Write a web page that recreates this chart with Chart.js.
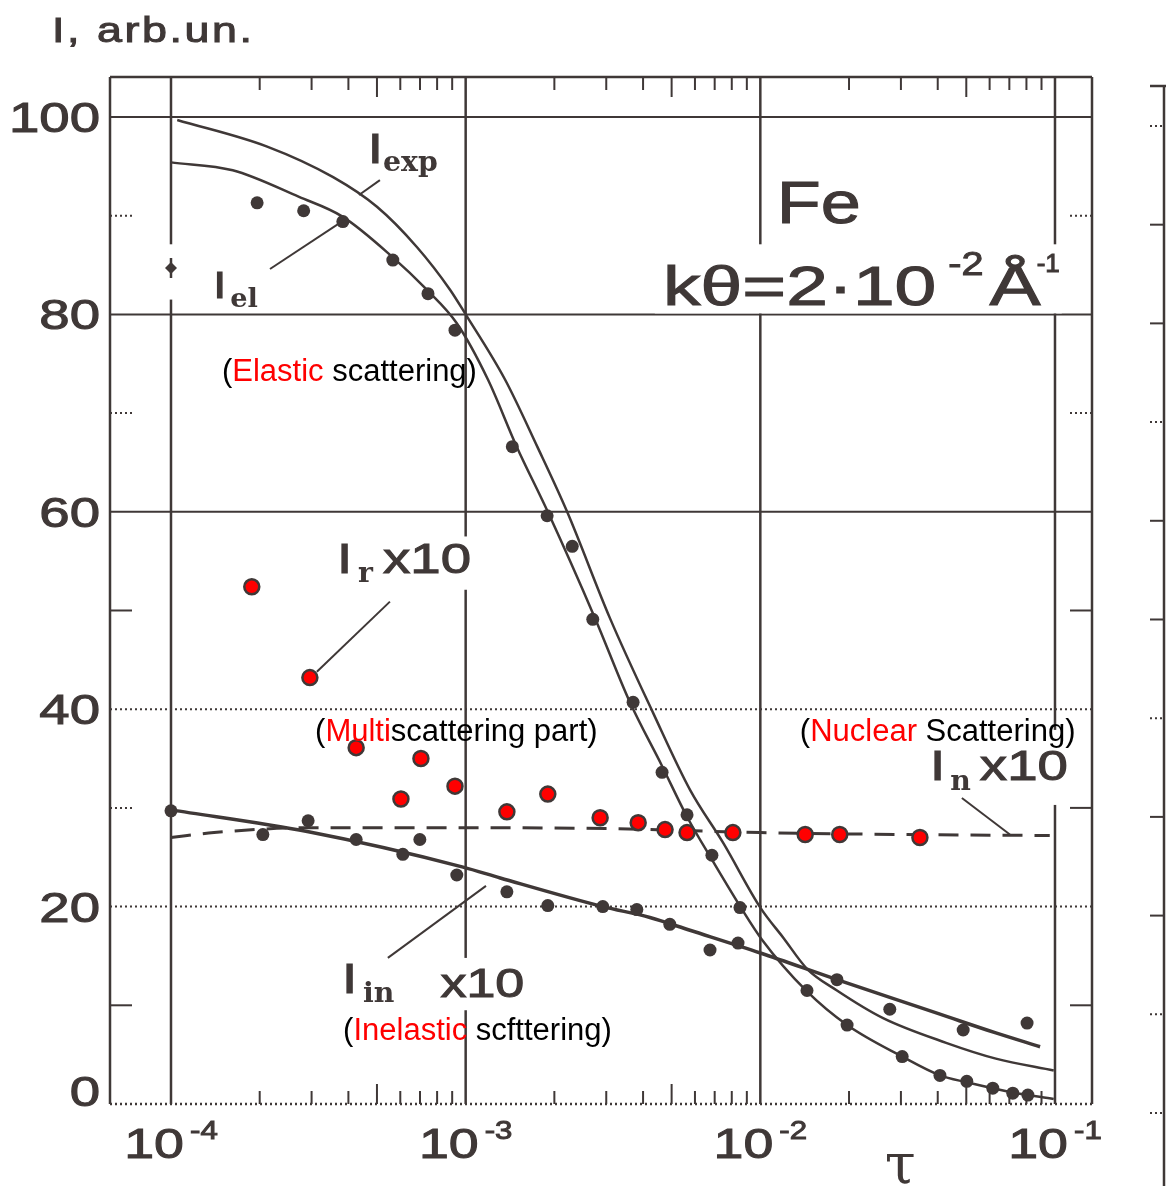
<!DOCTYPE html>
<html>
<head>
<meta charset="utf-8">
<title>Fe: I(tau), kθ = 2·10^-2 Å^-1</title>
<script src="https://cdn.jsdelivr.net/npm/chart.js@4.4.1/dist/chart.umd.min.js"></script>
<style>
  html, body { margin: 0; padding: 0; background: #fff; }
  #wrap { position: relative; width: 1166px; height: 1186px; }
</style>
</head>
<body>
<div id="wrap"><canvas id="fePlot"></canvas></div>
<script>
// axis ranges
const tauMin = Math.pow(10, -4.207);
const tauMax = Math.pow(10, -0.8744);
const intensityMax = 104.05;

// tick labels
const decadeTicks = [1e-4, 1e-3, 1e-2, 1e-1];
const decadeExponents = ['-4', '-3', '-2', '-1'];
const yTickValues = [0, 20, 40, 60, 80, 100];
const yTickLabels = ['0', '20', '40', '60', '80', '100'];

// I_exp (solid)
const expTau = [1.05e-4, 2.12e-4, 3.55e-4, 5.0e-4, 6.84e-4, 8.85e-4, 1.0e-3, 1.36e-3, 1.75e-3, 2.21e-3, 3.09e-3,
                4.33e-3, 5.78e-3, 7.5e-3, 1.0e-2, 1.2e-2, 1.44e-2, 1.82e-2, 2.61e-2, 4.27e-2, 6.3e-2, 9.9e-2];
const expValues = [99.7, 97.0, 93.9, 90.9, 86.8, 82.5, 80.0, 73.4, 66.6, 60.0, 49.2,
                   39.6, 31.8, 26.4, 19.9, 16.8, 13.7, 11.5, 8.7, 6.2, 4.6, 3.4];

// I_el (solid)
const elTau = [1.0e-4, 1.62e-4, 2.72e-4, 3.82e-4, 5.65e-4, 7.38e-4, 9.33e-4, 1.19e-3, 1.49e-3, 1.90e-3, 2.75e-3, 3.61e-3,
               4.63e-3, 5.64e-3, 6.90e-3, 8.55e-3, 1.01e-2, 1.44e-2, 1.97e-2, 3.03e-2, 4.07e-2, 5.02e-2, 7.1e-2, 9.9e-2];
const elValues = [95.4, 94.6, 91.9, 89.9, 85.8, 82.5, 79.1, 73.4, 66.6, 60.0, 49.2, 40.7,
                  34.3, 29.1, 24.6, 20.0, 16.7, 11.4, 8.0, 4.8, 2.9, 2.2, 1.2, 0.5];

// I_in x10 (solid)
const inTau = [1.0e-4, 2.9e-4, 9.8e-4, 1.31e-3, 2.92e-3, 4.22e-3, 5.77e-3, 1.0e-2, 1.82e-2, 2.75e-2, 4.07e-2, 6.3e-2, 8.9e-2];
const inValues = [29.8, 27.6, 24.0, 22.9, 20.0, 18.9, 17.6, 15.3, 12.6, 10.8, 9.1, 7.2, 5.8];

// I_n x10 (dashed)
const nucTau = [1.0e-4, 1.4e-4, 3.0e-4, 1.0e-3, 3.0e-3, 1.0e-2, 3.0e-2, 9.6e-2];
const nucValues = [27.0, 27.5, 28.0, 28.0, 27.9, 27.5, 27.3, 27.2];

// measured points, elastic
const elasticTau = [1.96e-4, 2.82e-4, 3.83e-4, 5.66e-4, 7.45e-4, 9.2e-4, 1.44e-3, 1.89e-3, 2.30e-3, 2.70e-3, 3.70e-3, 4.64e-3,
                    5.64e-3, 6.85e-3, 8.53e-3, 1.44e-2, 1.97e-2, 3.03e-2, 4.07e-2, 5.02e-2, 6.15e-2, 7.19e-2, 8.09e-2];
const elasticValues = [91.3, 90.5, 89.4, 85.5, 82.1, 78.4, 66.6, 59.6, 56.5, 49.1, 40.7, 33.6,
                       29.3, 25.2, 19.9, 11.5, 8.0, 4.8, 2.9, 2.3, 1.6, 1.1, 0.9];
const edgeTau = [1.0e-4];
const edgeValues = [84.7];

// measured points, inelastic x10
const inelasticTau = [1.0e-4, 2.05e-4, 2.92e-4, 4.25e-4, 6.12e-4, 6.99e-4, 9.33e-4, 1.38e-3, 1.90e-3,
                      2.92e-3, 3.81e-3, 4.93e-3, 6.75e-3, 8.40e-3, 1.82e-2, 2.75e-2, 4.88e-2, 8.04e-2];
const inelasticValues = [29.7, 27.3, 28.7, 26.8, 25.3, 26.8, 23.2, 21.5, 20.1,
                         20.0, 19.7, 18.2, 15.6, 16.3, 12.6, 9.6, 7.5, 8.2];

// measured points, multiscattering I_r x10
const multiTau = [1.88e-4, 2.96e-4, 4.25e-4, 6.03e-4, 7.05e-4, 9.2e-4, 1.38e-3, 1.90e-3,
                  2.86e-3, 3.85e-3, 4.75e-3, 5.64e-3, 8.07e-3, 1.42e-2, 1.86e-2, 3.48e-2];
const multiValues = [52.4, 43.2, 36.1, 30.9, 35.0, 32.2, 29.6, 31.4,
                     29.0, 28.5, 27.8, 27.5, 27.5, 27.3, 27.3, 27.0];

const INK = '#3f3837';
const RED = '#ff0000';
const SANS = '"Liberation Sans", Arial, sans-serif';
const SERIF = '"DejaVu Serif", serif';

const toPoints = (xs, ys) => xs.map((t, i) => ({ x: t, y: ys[i] }));

function seg(ctx, x1, y1, x2, y2) {
    ctx.beginPath();
    ctx.moveTo(x1, y1);
    ctx.lineTo(x2, y2);
    ctx.stroke();
}

function measureWide(ctx, text, size, o = {}) {
    ctx.save();
    ctx.font = `${o.weight || 'normal'} ${size}px ${o.family || SANS}`;
    if (o.spacing) ctx.letterSpacing = o.spacing + 'px';
    const w = ctx.measureText(text).width * (o.stretch || 1.3);
    ctx.restore();
    return w;
}

// printed (scanned) lettering: wide face, slightly heavy
function drawWide(ctx, text, x, y, size, o = {}) {
    const stretch = o.stretch || 1.3;
    const heavy = o.heavy === undefined ? 1 : o.heavy;
    const w = measureWide(ctx, text, size, o);
    let left = x;
    if (o.align === 'center') left = x - w / 2;
    if (o.align === 'right') left = x - w;
    ctx.save();
    ctx.font = `${o.weight || 'normal'} ${size}px ${o.family || SANS}`;
    if (o.spacing) ctx.letterSpacing = o.spacing + 'px';
    ctx.fillStyle = o.color || INK;
    ctx.textAlign = 'left';
    ctx.textBaseline = 'alphabetic';
    ctx.translate(left, y);
    ctx.scale(stretch, 1);
    ctx.fillText(text, 0, 0);
    if (heavy > 0) {
        ctx.strokeStyle = o.color || INK;
        ctx.lineWidth = heavy;
        ctx.strokeText(text, 0, 0);
    }
    ctx.restore();
    return w;
}

function drawPieces(ctx, pieces, x, y) {
    let cx = x;
    pieces.forEach(p => {
        cx += p.gap || 0;
        cx += drawWide(ctx, p.t, cx, y + (p.dy || 0), p.size, p);
    });
    return cx;
}

function drawColored(ctx, parts, x, y) {
    ctx.save();
    ctx.font = `31px ${SANS}`;
    ctx.textAlign = 'left';
    ctx.textBaseline = 'middle';
    let cx = x;
    parts.forEach(([text, color]) => {
        ctx.fillStyle = color;
        ctx.fillText(text, cx, y);
        cx += ctx.measureText(text).width;
    });
    ctx.restore();
}

// grid, frame, ticks and the gaps the original print leaves behind its labels
const scanFrame = {
    id: 'scanFrame',
    beforeDatasetsDraw(chart) {
        const { ctx, chartArea: a, scales: { x, y } } = chart;
        const P = (lt, v) => ({ x: x.getPixelForValue(Math.pow(10, lt)), y: y.getPixelForValue(v) });
        ctx.save();
        ctx.strokeStyle = INK;

        const dottedRows = [true, true, true, false, false, false];
        yTickValues.forEach((v, i) => {
            const py = y.getPixelForValue(v);
            ctx.lineWidth = i === 0 ? 2.5 : 2;
            ctx.setLineDash(dottedRows[i] ? [2, 3] : []);
            seg(ctx, a.left, py, a.right, py);
        });
        ctx.setLineDash([]);
        ctx.lineWidth = 2.5;
        seg(ctx, a.left, a.top, a.right, a.top);
        seg(ctx, a.left, a.top, a.left, a.bottom);
        seg(ctx, a.right, a.top, a.right, a.bottom);
        decadeTicks.forEach(t => {
            const px = x.getPixelForValue(t);
            seg(ctx, px, a.top, px, a.bottom);
        });

        // log minor ticks, top and bottom
        ctx.lineWidth = 2;
        [-4, -3, -2].forEach(n => {
            for (let k = 2; k <= 9; k++) {
                const px = x.getPixelForValue(k * Math.pow(10, n));
                const len = k === 5 ? 20 : 13;
                seg(ctx, px, a.top, px, a.top + len);
                seg(ctx, px, a.bottom, px, a.bottom - len);
            }
        });

        // side ticks at odd tens
        const sideValues = [10, 30, 50, 70, 90];
        const leftDotted = [false, true, false, true, true];
        const rightDotted = [false, false, false, true, true];
        sideValues.forEach((v, i) => {
            const py = y.getPixelForValue(v);
            ctx.setLineDash(leftDotted[i] ? [2, 3] : []);
            seg(ctx, a.left, py, a.left + 22, py);
            ctx.setLineDash(rightDotted[i] ? [2, 3] : []);
            seg(ctx, a.right, py, a.right - 22, py);
        });
        ctx.setLineDash([]);

        // gaps in the grid behind printed labels
        const gaps = [
            [-3.467, -2.945, 57.5, 52.1],
            [-3.433, -2.748, 14.8, 9.5],
            [-2.358, -0.977, 87.1, 80.1],
            [-1.452, -0.933, 37.9, 30.3],
            [-4.02, -3.976, 87.1, 81.5]
        ];
        ctx.fillStyle = '#fff';
        gaps.forEach(([l0, l1, v0, v1]) => {
            const p0 = P(l0, v0), p1 = P(l1, v1);
            ctx.fillRect(p0.x, p0.y, p1.x - p0.x, p1.y - p0.y);
        });
        ctx.restore();
    },

    afterDatasetsDraw(chart) {
        const { ctx, chartArea: a, scales: { x, y } } = chart;
        const P = (lt, v) => ({ x: x.getPixelForValue(Math.pow(10, lt)), y: y.getPixelForValue(v) });
        ctx.save();

        // leader lines
        ctx.strokeStyle = INK;
        ctx.lineWidth = 2;
        const leaders = [
            [-3.291, 93.6, -3.362, 92.1],
            [-3.664, 84.6, -3.410, 89.6],
            [-3.257, 50.9, -3.505, 43.8],
            [-1.316, 31.0, -1.153, 27.3],
            [-3.264, 14.8, -2.931, 22.1]
        ];
        leaders.forEach(([l0, v0, l1, v1]) => {
            const p0 = P(l0, v0), p1 = P(l1, v1);
            seg(ctx, p0.x, p0.y, p1.x, p1.y);
        });

        // printed curve labels
        const sub = { weight: 'bold', family: SERIF, stretch: 1.05, heavy: 0 };
        let p = P(-3.332, 95.3);
        drawPieces(ctx, [{ t: 'I', size: 42 }, { t: 'exp', size: 27, dy: 8, gap: 0, ...sub }], p.x, p.y);
        p = P(-3.857, 81.7);
        drawPieces(ctx, [{ t: 'I', size: 36 }, { t: 'el', size: 26, dy: 9, gap: 4, ...sub }], p.x, p.y);
        p = P(-3.437, 53.8);
        drawPieces(ctx, [{ t: 'I', size: 42 }, { t: 'r', size: 27, dy: 9, gap: 6, ...sub },
                         { t: 'x10', size: 42, gap: 10 }], p.x, p.y);
        p = P(-1.424, 32.8);
        drawPieces(ctx, [{ t: 'I', size: 42 }, { t: 'n', size: 27, dy: 10, gap: 5, ...sub },
                         { t: 'x10', size: 42, gap: 9 }], p.x, p.y);
        p = P(-3.420, 11.25);
        drawPieces(ctx, [{ t: 'I', size: 42 }, { t: 'in', size: 27, dy: 9, gap: 6, ...sub },
                         { t: 'x10', size: 40, dy: 4, gap: 46 }], p.x, p.y);

        p = P(-1.944, 89.3);
        drawWide(ctx, 'Fe', p.x, p.y, 60, { stretch: 1.2 });
        p = P(-2.330, 80.95);
        drawPieces(ctx, [{ t: 'kθ=2·10', size: 56, stretch: 1.34 },
                         { t: '-2', size: 33, dy: -30, gap: 12, stretch: 1.2 },
                         { t: 'Å', size: 58, gap: 6, stretch: 1.32 },
                         { t: '-1', size: 26, dy: -33, gap: -4, stretch: 1.0 }], p.x, p.y);

        // added annotations
        p = P(-3.827, 74.1);
        drawColored(ctx, [['(', '#000'], ['Elastic', RED], [' scattering)', '#000']], p.x, p.y);
        p = P(-3.511, 37.6);
        drawColored(ctx, [['(', '#000'], ['Multi', RED], ['scattering part)', '#000']], p.x, p.y);
        p = P(-1.866, 37.6);
        drawColored(ctx, [['(', '#000'], ['Nuclear', RED], [' Scattering)', '#000']], p.x, p.y);
        p = P(-3.416, 7.3);
        drawColored(ctx, [['(', '#000'], ['Inelastic', RED], [' scfttering)', '#000']], p.x, p.y);

        // y tick labels
        yTickValues.forEach((v, i) => {
            const py = y.getPixelForValue(v) + (v === 0 ? 2 : 15);
            drawWide(ctx, yTickLabels[i], 100, py, 42, { align: 'right' });
        });

        // x tick labels 10^n
        decadeTicks.forEach((t, i) => {
            const px = x.getPixelForValue(t);
            const wBase = measureWide(ctx, '10', 43, { stretch: 1.25 });
            const wSup = measureWide(ctx, decadeExponents[i], 26, { stretch: 1.2 });
            const left = px - (wBase + 6 + wSup) / 2;
            const base = a.bottom + 54;
            drawWide(ctx, '10', left, base, 43, { stretch: 1.25 });
            drawWide(ctx, decadeExponents[i], left + wBase + 6, base - 19, 26, { stretch: 1.2 });
        });

        // axis titles
        drawWide(ctx, 'I, arb.un.', 52, 42, 35, { stretch: 1.28, spacing: 2 });
        ctx.fillStyle = INK;
        ctx.font = `56px ${SERIF}`;
        ctx.textAlign = 'center';
        ctx.textBaseline = 'alphabetic';
        ctx.fillText('τ', x.getPixelForValue(Math.pow(10, -1.525)), a.bottom + 79);

        // edge of the neighbouring panel
        ctx.strokeStyle = INK;
        ctx.lineWidth = 2.5;
        const edgeX = a.right + 72;
        seg(ctx, edgeX, a.top + 9, edgeX, chart.height);
        seg(ctx, edgeX - 14, a.top + 9, edgeX + 4, a.top + 9);
        ctx.lineWidth = 2;
        for (let v = 0; v <= 100; v += 10) {
            const py = y.getPixelForValue(v) + 9;
            ctx.setLineDash(v % 30 === 10 || v === 40 || v === 0 ? [2, 3] : []);
            seg(ctx, edgeX - 14, py, edgeX, py);
        }
        ctx.restore();
    }
};

const lineStyle = {
    showLine: true,
    pointRadius: 0,
    borderColor: INK,
    fill: false,
    cubicInterpolationMode: 'monotone',
    order: 3
};
const dotStyle = {
    showLine: false,
    pointRadius: 6.5,
    pointBackgroundColor: INK,
    pointBorderColor: INK,
    pointBorderWidth: 0,
    order: 1
};

new Chart(document.getElementById('fePlot'), {
    type: 'scatter',
    data: {
        datasets: [
            { label: 'I_r x10', data: toPoints(multiTau, multiValues), ...dotStyle,
              pointRadius: 7.5, pointBackgroundColor: RED, pointBorderColor: INK, pointBorderWidth: 2.5, order: 0 },
            { label: 'I_el points', data: toPoints(elasticTau, elasticValues), ...dotStyle },
            { label: 'I_in points', data: toPoints(inelasticTau, inelasticValues), ...dotStyle },
            { label: 'I_el at 1e-4', data: toPoints(edgeTau, edgeValues), ...dotStyle,
              pointStyle: 'rectRot', pointRadius: 6 },
            { label: 'I_el at 1e-4 bar', data: toPoints(edgeTau, edgeValues), ...dotStyle,
              pointStyle: 'line', pointRotation: 90, pointRadius: 10, pointBorderWidth: 2.5 },
            { label: 'I_exp', data: toPoints(expTau, expValues), ...lineStyle, borderWidth: 2.5 },
            { label: 'I_el', data: toPoints(elTau, elValues), ...lineStyle, borderWidth: 2.5 },
            { label: 'I_in x10', data: toPoints(inTau, inValues), ...lineStyle, borderWidth: 3.5 },
            { label: 'I_n x10', data: toPoints(nucTau, nucValues), ...lineStyle, borderWidth: 3, borderDash: [20, 12] }
        ]
    },
    options: {
        responsive: true,
        maintainAspectRatio: false,
        animation: false,
        events: [],
        layout: { padding: { left: 110, top: 77, right: 74, bottom: 82 } },
        plugins: { legend: { display: false }, tooltip: { enabled: false } },
        scales: {
            x: { type: 'logarithmic', min: tauMin, max: tauMax, display: false },
            y: { type: 'linear', min: 0, max: intensityMax, display: false }
        }
    },
    plugins: [scanFrame]
});
</script>
</body>
</html>
